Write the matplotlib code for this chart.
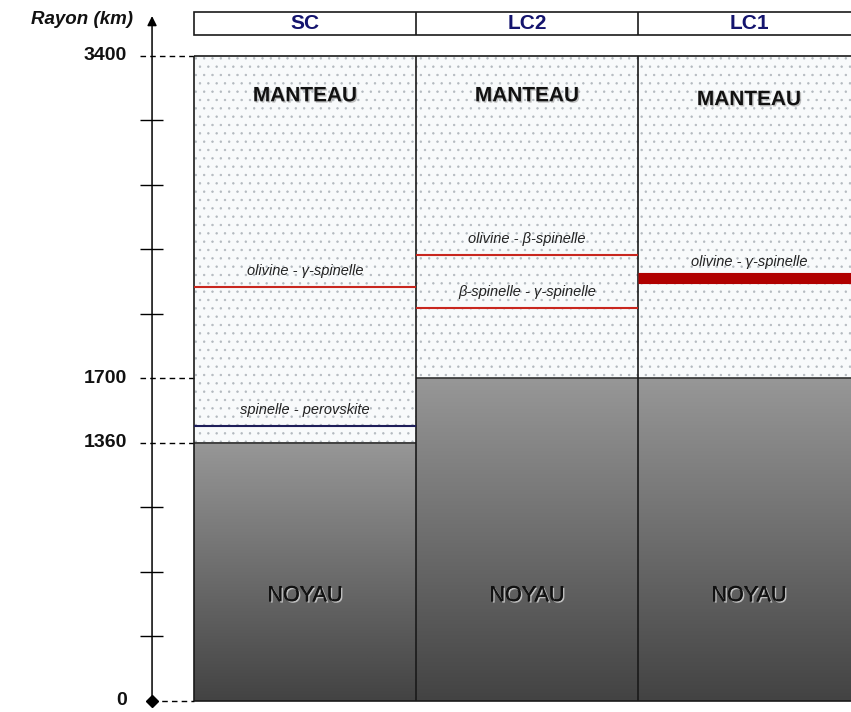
import numpy as np
import matplotlib.pyplot as plt
from matplotlib.patches import Rectangle
from matplotlib.colors import LinearSegmentedColormap
import matplotlib.patheffects as pe

plt.rcParams['font.family'] = ['Liberation Sans', 'DejaVu Sans']
plt.rcParams['hatch.linewidth'] = 0.5

# --- données (rayons en km) ---
modeles = ['SC', 'LC2', 'LC1']
rayon_planete = 3400
rayon_noyau = [1360, 1700, 1700]
graduations = [0, 1360, 1700, 3400]
pas = 340

# transitions de phase dans le manteau
trans_modele = [0, 0, 1, 1, 2]
trans_rayon = [2180, 1450, 2350, 2070, 2230]
trans_label = ['olivine - γ-spinelle', 'spinelle - perovskite',
               'olivine - β-spinelle', 'β-spinelle - γ-spinelle',
               'olivine - γ-spinelle']

# --- style ---
trans_couleur = ['#c8261e', '#1e1e5a', '#c8261e', '#c8261e', '#b00000']
trans_lw = [1.5, 1.5, 1.5, 1.5, 8]
y_manteau = [3190, 3190, 3170]
y_noyau = 555
x_axe = -0.189
cmap_noyau = LinearSegmentedColormap.from_list('noyau', ['#434343', '#979797'])

fig = plt.figure(figsize=(8.51, 7.12), dpi=100)
ax = fig.add_axes([0, 0, 1, 1])

# colonnes : manteau pointillé + noyau en dégradé
for i, r in enumerate(rayon_noyau):
    ax.add_patch(Rectangle((i, r), 1, rayon_planete - r, facecolor='#f8fafb',
                           edgecolor='#b3b9bf', lw=0, hatch='..', zorder=1))
    grad = np.linspace(0, 1, 256).reshape(-1, 1)
    ax.imshow(grad, extent=[i, i + 1, 0, r], origin='lower', cmap=cmap_noyau,
              aspect='auto', zorder=1)
    ax.hlines(r, i, i + 1, color='#333333', lw=1.2, zorder=3)
    ax.text(i + 0.5, y_manteau[i], 'MANTEAU', ha='center', va='center',
            fontsize=15, fontweight='bold', color='#111111', zorder=4,
            path_effects=[pe.SimplePatchShadow(offset=(1, -1), shadow_rgbFace='#9a9a9a', alpha=0.6), pe.Normal()])
    ax.text(i + 0.5, y_noyau, 'NOYAU', ha='center', va='center',
            fontsize=15.5, color='#111111', zorder=4,
            path_effects=[pe.Stroke(linewidth=0.6, foreground='#111111'),
                          pe.SimplePatchShadow(offset=(1, -1), shadow_rgbFace='#d8d8d8', alpha=0.8), pe.Normal()])

ax.vlines([0, 1, 2], 0, rayon_planete, color='#1a1a1a', lw=1.2, zorder=3)
ax.hlines([0, rayon_planete], 0, 3.2, color='#1a1a1a', lw=1.2, zorder=3)

# transitions
for m, r, lab, c, lw in zip(trans_modele, trans_rayon, trans_label, trans_couleur, trans_lw):
    ax.hlines(r, m, m + 1, color=c, lw=lw, zorder=3)
    ax.annotate(lab, (m + 0.5, r), xytext=(0, 11.5), textcoords='offset points',
                ha='center', va='center', fontsize=10.5, style='italic',
                color='#222222', zorder=4)

# en-tête des modèles
h_bas, h_haut = 3511, 3632
ax.add_patch(Rectangle((0, h_bas), 3.2, h_haut - h_bas, facecolor='white',
                       edgecolor='#1a1a1a', lw=1.2, zorder=3))
ax.vlines([1, 2], h_bas, h_haut, color='#1a1a1a', lw=1.2, zorder=3)
for i, nom in enumerate(modeles):
    ax.text(i + 0.5, (h_bas + h_haut) / 2, nom, ha='center', va='center',
            fontsize=15, fontweight='bold', color='#14146e', zorder=4)

# axe des rayons
ax.annotate('', xy=(x_axe, 3625), xytext=(x_axe, 0),
            arrowprops=dict(arrowstyle='-|>', color='black', lw=1.1, mutation_scale=14))
ax.plot(x_axe, 0, marker='D', color='black', markersize=6, zorder=5)
for t in np.arange(pas, rayon_planete, pas):
    if t not in graduations:
        ax.hlines(t, -0.243, -0.14, color='black', lw=1)
for g in graduations:
    ax.hlines(g, -0.243 if g else x_axe, 0, color='black', lw=1, linestyles=(0, (4, 3)))
    ax.text(-0.302, g, str(g), ha='right', va='center', fontsize=14,
            fontweight='bold', color='#111111')
ax.text(-0.275, 3590, 'Rayon (km)', ha='right', va='center', fontsize=13.5,
        fontweight='bold', style='italic', color='#111111')

ax.set_xlim(-194 / 222, 657 / 222)
ax.set_ylim(-58, 3695)
ax.axis('off')

plt.savefig('out.png', dpi=100)
